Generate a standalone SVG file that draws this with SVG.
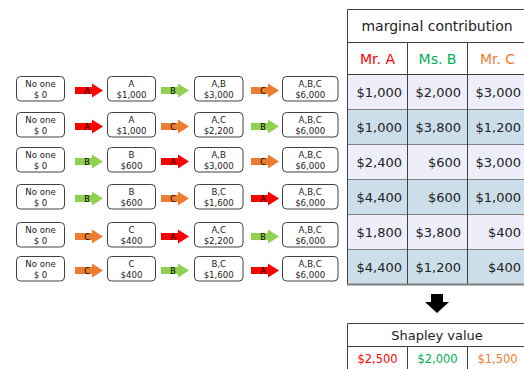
<svg xmlns="http://www.w3.org/2000/svg" xmlns:xlink="http://www.w3.org/1999/xlink" width="524" height="369" viewBox="0 0 524 369">
<style>
text{font-family:"DejaVu Sans","Liberation Sans",sans-serif;}
.box{fill:#fff;stroke:#404040;stroke-width:1;}
.bt{font-size:8.6px;fill:#222;text-anchor:middle;}
.al{font-size:8px;fill:#000;text-anchor:middle;}
.ra{fill:#ff0000;}
.ga{fill:#92d050;}
.oa{fill:#ed7d31;}
.c1{fill:#eeeefa;}
.c2{fill:#cddeeb;}
.grid{stroke:#404040;stroke-width:1;fill:none;}
.rl{stroke:#7f7f7f;stroke-width:1;}
.tv{font-size:13px;fill:#222;text-anchor:end;}
.hd{font-size:14px;text-anchor:middle;}
</style>
<defs>
<path id="arr" d="M0,-3.5 H17 V-7 L28,0 L17,7 V3.5 H0 Z"/>
</defs>

<g id="connectors">
<use xlink:href="#arr" class="ra" transform="translate(75,90.5)"/><text class="al" x="87" y="93.5">A</text>
<use xlink:href="#arr" class="ga" transform="translate(161,90.5)"/><text class="al" x="173" y="93.5">B</text>
<use xlink:href="#arr" class="oa" transform="translate(251,90.5)"/><text class="al" x="263" y="93.5">C</text>

<use xlink:href="#arr" class="ra" transform="translate(75,126.5)"/><text class="al" x="87" y="129.5">A</text>
<use xlink:href="#arr" class="oa" transform="translate(161,126.5)"/><text class="al" x="173" y="129.5">C</text>
<use xlink:href="#arr" class="ga" transform="translate(251,126.5)"/><text class="al" x="263" y="129.5">B</text>

<use xlink:href="#arr" class="ga" transform="translate(75,161.5)"/><text class="al" x="87" y="164.5">B</text>
<use xlink:href="#arr" class="ra" transform="translate(161,161.5)"/><text class="al" x="173" y="164.5">A</text>
<use xlink:href="#arr" class="oa" transform="translate(251,161.5)"/><text class="al" x="263" y="164.5">C</text>

<use xlink:href="#arr" class="ga" transform="translate(75,198.5)"/><text class="al" x="87" y="201.5">B</text>
<use xlink:href="#arr" class="oa" transform="translate(161,198.5)"/><text class="al" x="173" y="201.5">C</text>
<use xlink:href="#arr" class="ra" transform="translate(251,198.5)"/><text class="al" x="263" y="201.5">A</text>

<use xlink:href="#arr" class="oa" transform="translate(75,236.5)"/><text class="al" x="87" y="239.5">C</text>
<use xlink:href="#arr" class="ra" transform="translate(161,236.5)"/><text class="al" x="173" y="239.5">A</text>
<use xlink:href="#arr" class="ga" transform="translate(251,236.5)"/><text class="al" x="263" y="239.5">B</text>

<use xlink:href="#arr" class="oa" transform="translate(75,270.5)"/><text class="al" x="87" y="273.5">C</text>
<use xlink:href="#arr" class="ga" transform="translate(161,270.5)"/><text class="al" x="173" y="273.5">B</text>
<use xlink:href="#arr" class="ra" transform="translate(251,270.5)"/><text class="al" x="263" y="273.5">A</text>
</g>

<!-- row 1 -->
<g id="r1n0"><rect class="box" x="16.5" y="76.5" width="48" height="24.5" rx="4"/><text class="bt" x="40.5" y="87">No one</text><text class="bt" x="40.5" y="98">$ 0</text></g>
<g id="r1n1"><rect class="box" x="107.5" y="76.5" width="48" height="24.5" rx="4"/><text class="bt" x="131.5" y="87">A</text><text class="bt" x="131.5" y="98">$1,000</text></g>
<g id="r1n2"><rect class="box" x="194.5" y="76.5" width="48.5" height="24.5" rx="4"/><text class="bt" x="218.7" y="87">A,B</text><text class="bt" x="218.7" y="98">$3,000</text></g>
<g id="r1n3"><rect class="box" x="282.5" y="76.5" width="55.5" height="24.5" rx="4"/><text class="bt" x="310.2" y="87">A,B,C</text><text class="bt" x="310.2" y="98">$6,000</text></g>

<!-- row 2 -->
<g id="r2n0"><rect class="box" x="16.5" y="112.5" width="48" height="24.5" rx="4"/><text class="bt" x="40.5" y="123">No one</text><text class="bt" x="40.5" y="134">$ 0</text></g>
<g id="r2n1"><rect class="box" x="107.5" y="112.5" width="48" height="24.5" rx="4"/><text class="bt" x="131.5" y="123">A</text><text class="bt" x="131.5" y="134">$1,000</text></g>
<g id="r2n2"><rect class="box" x="194.5" y="112.5" width="48.5" height="24.5" rx="4"/><text class="bt" x="218.7" y="123">A,C</text><text class="bt" x="218.7" y="134">$2,200</text></g>
<g id="r2n3"><rect class="box" x="282.5" y="112.5" width="55.5" height="24.5" rx="4"/><text class="bt" x="310.2" y="123">A,B,C</text><text class="bt" x="310.2" y="134">$6,000</text></g>

<!-- row 3 -->
<g id="r3n0"><rect class="box" x="16.5" y="147.5" width="48" height="24.5" rx="4"/><text class="bt" x="40.5" y="158">No one</text><text class="bt" x="40.5" y="169">$ 0</text></g>
<g id="r3n1"><rect class="box" x="107.5" y="147.5" width="48" height="24.5" rx="4"/><text class="bt" x="131.5" y="158">B</text><text class="bt" x="131.5" y="169">$600</text></g>
<g id="r3n2"><rect class="box" x="194.5" y="147.5" width="48.5" height="24.5" rx="4"/><text class="bt" x="218.7" y="158">A,B</text><text class="bt" x="218.7" y="169">$3,000</text></g>
<g id="r3n3"><rect class="box" x="282.5" y="147.5" width="55.5" height="24.5" rx="4"/><text class="bt" x="310.2" y="158">A,B,C</text><text class="bt" x="310.2" y="169">$6,000</text></g>

<!-- row 4 -->
<g id="r4n0"><rect class="box" x="16.5" y="184.5" width="48" height="24.5" rx="4"/><text class="bt" x="40.5" y="195">No one</text><text class="bt" x="40.5" y="206">$ 0</text></g>
<g id="r4n1"><rect class="box" x="107.5" y="184.5" width="48" height="24.5" rx="4"/><text class="bt" x="131.5" y="195">B</text><text class="bt" x="131.5" y="206">$600</text></g>
<g id="r4n2"><rect class="box" x="194.5" y="184.5" width="48.5" height="24.5" rx="4"/><text class="bt" x="218.7" y="195">B,C</text><text class="bt" x="218.7" y="206">$1,600</text></g>
<g id="r4n3"><rect class="box" x="282.5" y="184.5" width="55.5" height="24.5" rx="4"/><text class="bt" x="310.2" y="195">A,B,C</text><text class="bt" x="310.2" y="206">$6,000</text></g>

<!-- row 5 -->
<g id="r5n0"><rect class="box" x="16.5" y="222.5" width="48" height="24.5" rx="4"/><text class="bt" x="40.5" y="233">No one</text><text class="bt" x="40.5" y="244">$ 0</text></g>
<g id="r5n1"><rect class="box" x="107.5" y="222.5" width="48" height="24.5" rx="4"/><text class="bt" x="131.5" y="233">C</text><text class="bt" x="131.5" y="244">$400</text></g>
<g id="r5n2"><rect class="box" x="194.5" y="222.5" width="48.5" height="24.5" rx="4"/><text class="bt" x="218.7" y="233">A,C</text><text class="bt" x="218.7" y="244">$2,200</text></g>
<g id="r5n3"><rect class="box" x="282.5" y="222.5" width="55.5" height="24.5" rx="4"/><text class="bt" x="310.2" y="233">A,B,C</text><text class="bt" x="310.2" y="244">$6,000</text></g>

<!-- row 6 -->
<g id="r6n0"><rect class="box" x="16.5" y="256.5" width="48" height="24.5" rx="4"/><text class="bt" x="40.5" y="267">No one</text><text class="bt" x="40.5" y="278">$ 0</text></g>
<g id="r6n1"><rect class="box" x="107.5" y="256.5" width="48" height="24.5" rx="4"/><text class="bt" x="131.5" y="267">C</text><text class="bt" x="131.5" y="278">$400</text></g>
<g id="r6n2"><rect class="box" x="194.5" y="256.5" width="48.5" height="24.5" rx="4"/><text class="bt" x="218.7" y="267">B,C</text><text class="bt" x="218.7" y="278">$1,600</text></g>
<g id="r6n3"><rect class="box" x="282.5" y="256.5" width="55.5" height="24.5" rx="4"/><text class="bt" x="310.2" y="267">A,B,C</text><text class="bt" x="310.2" y="278">$6,000</text></g>

<!-- marginal contribution table -->
<g id="mc-table">
<rect x="347.5" y="9.5" width="180" height="65" fill="#fff"/>
<rect class="c1" x="347.5" y="74.5" width="180" height="35"/>
<rect class="c2" x="347.5" y="109.5" width="180" height="35"/>
<rect class="c1" x="347.5" y="144.5" width="180" height="35"/>
<rect class="c2" x="347.5" y="179.5" width="180" height="35"/>
<rect class="c1" x="347.5" y="214.5" width="180" height="35"/>
<rect class="c2" x="347.5" y="249.5" width="180" height="35"/>
<line class="rl" x1="347.5" y1="109.5" x2="527" y2="109.5"/>
<line class="rl" x1="347.5" y1="144.5" x2="527" y2="144.5"/>
<line class="rl" x1="347.5" y1="179.5" x2="527" y2="179.5"/>
<line class="rl" x1="347.5" y1="214.5" x2="527" y2="214.5"/>
<line class="rl" x1="347.5" y1="249.5" x2="527" y2="249.5"/>
<path class="grid" d="M527,9.5 H347.5 V284.5 M347.5,42.5 H527 M347.5,74.5 H527 M407.5,42.5 V284.5 M467.5,42.5 V284.5"/>
<line x1="347" y1="284.5" x2="527" y2="284.5" stroke="#7f7f7f" stroke-width="2"/>
<text x="437" y="31" font-size="14" fill="#222" text-anchor="middle">marginal contribution</text>
<text class="hd" x="377.5" y="63.5" fill="#ff0000">Mr. A</text>
<text class="hd" x="437.5" y="63.5" fill="#00b050">Ms. B</text>
<text class="hd" x="497.5" y="63.5" fill="#ed7d31">Mr. C</text>
<text class="tv" x="402" y="96.5">$1,000</text><text class="tv" x="461" y="96.5">$2,000</text><text class="tv" x="521" y="96.5">$3,000</text>
<text class="tv" x="402" y="131.5">$1,000</text><text class="tv" x="461" y="131.5">$3,800</text><text class="tv" x="521" y="131.5">$1,200</text>
<text class="tv" x="402" y="166.5">$2,400</text><text class="tv" x="461" y="166.5">$600</text><text class="tv" x="521" y="166.5">$3,000</text>
<text class="tv" x="402" y="201.5">$4,400</text><text class="tv" x="461" y="201.5">$600</text><text class="tv" x="521" y="201.5">$1,000</text>
<text class="tv" x="402" y="236.5">$1,800</text><text class="tv" x="461" y="236.5">$3,800</text><text class="tv" x="521" y="236.5">$400</text>
<text class="tv" x="402" y="271.5">$4,400</text><text class="tv" x="461" y="271.5">$1,200</text><text class="tv" x="521" y="271.5">$400</text>
</g>

<g id="down-arrow">
<path d="M431,294 H443 V302 H449 L437,313 L425,302 H431 Z" fill="#000"/>
</g>

<g id="shapley-table">
<rect x="347.5" y="323.5" width="180" height="50" fill="#fff"/>
<path class="grid" d="M527,323.5 H347.5 V372 M347.5,346.5 H527 M407.5,346.5 V372 M467.5,346.5 V372"/>
<text x="437" y="340" font-size="13" fill="#222" text-anchor="middle">Shapley value</text>
<text x="377.5" y="362.5" font-size="11.5" fill="#ff0000" text-anchor="middle">$2,500</text>
<text x="437.5" y="362.5" font-size="11.5" fill="#00b050" text-anchor="middle">$2,000</text>
<text x="497.5" y="362.5" font-size="11.5" fill="#ed7d31" text-anchor="middle">$1,500</text>
</g>
</svg>
